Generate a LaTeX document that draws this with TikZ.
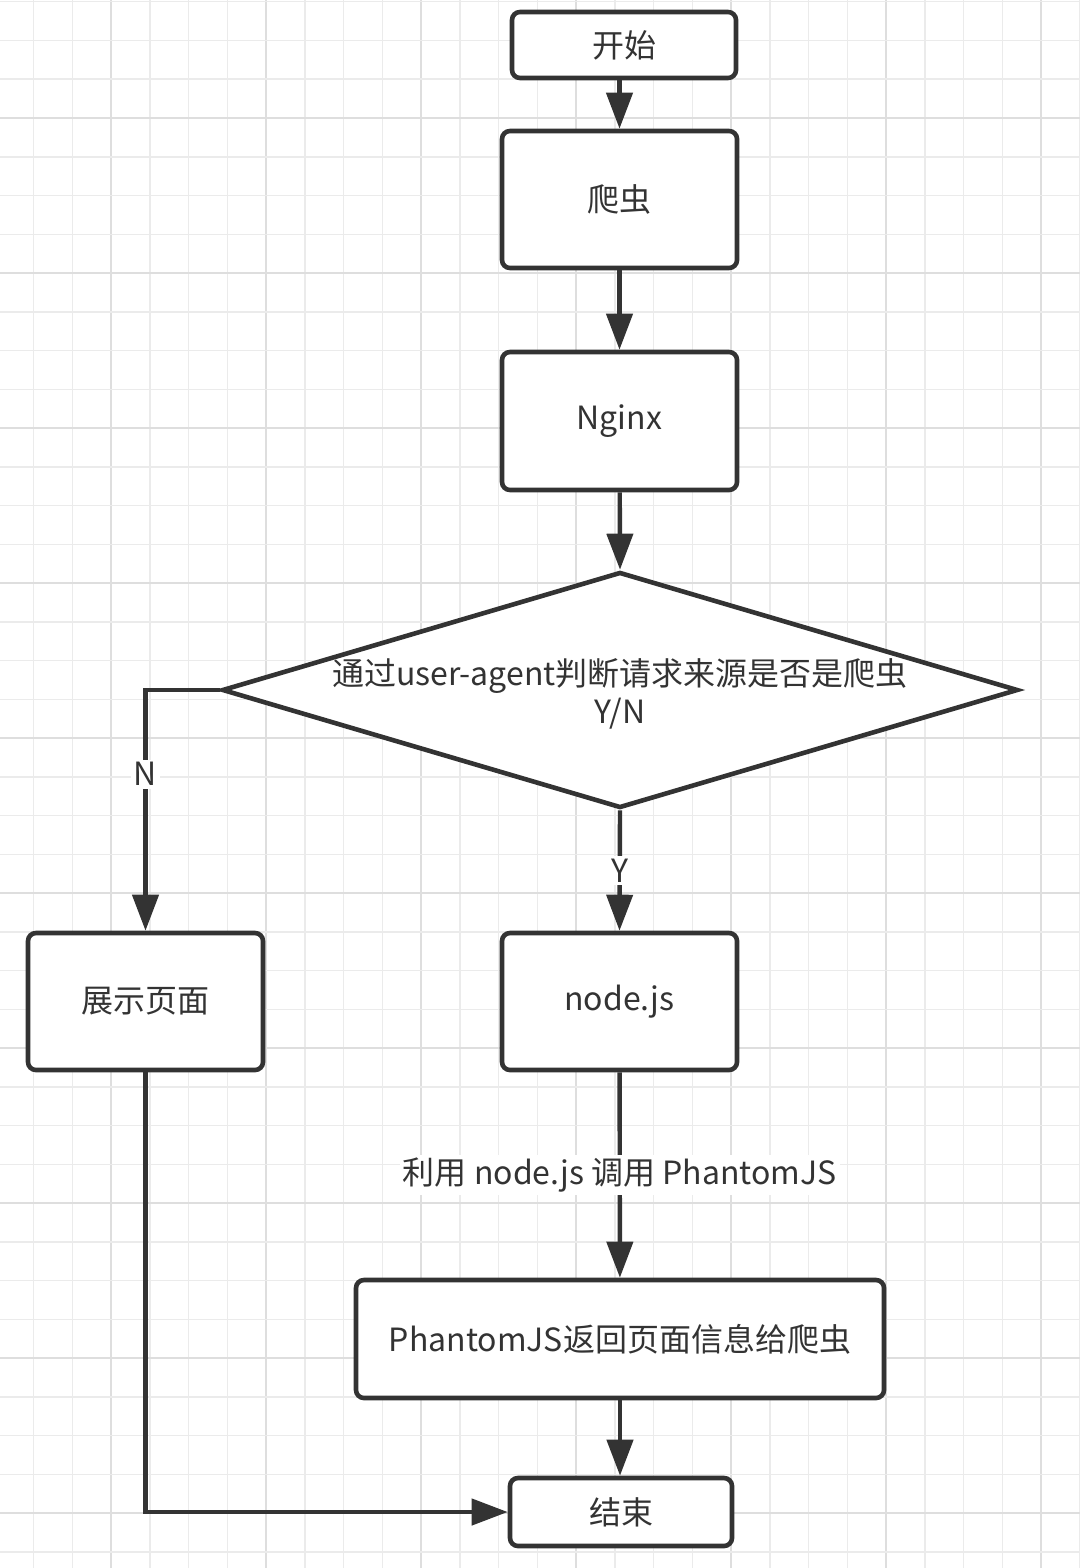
\documentclass[tikz,border=0pt]{standalone}
\usepackage{fontspec}
\setmainfont{Noto Sans CJK SC}
\usetikzlibrary{shapes.geometric,arrows.meta}
\definecolor{ink}{HTML}{333333}
\definecolor{gridminor}{HTML}{EBEBEB}
\definecolor{gridmajor}{HTML}{DEDEDE}
\begin{document}
\begin{tikzpicture}[x=0.5pt,y=-0.5pt,
  box/.style={draw=ink, line width=2.3pt, rounded corners=4pt, fill=white, text=ink,
    font=\fontsize{16pt}{19pt}\selectfont, inner sep=0pt},
  conn/.style={draw=ink, line width=2.2pt, -{Triangle[length=18pt,width=13pt]}},
  lbl/.style={fill=white, text=ink, font=\fontsize{16pt}{19pt}\selectfont, inner sep=1.5pt}]
\useasboundingbox (0,0) rectangle (1080,1568);
\fill[white] (0,0) rectangle (1080,1568);
% grid
\foreach \k in {0,...,27}{
  \pgfmathtruncatemacro\m{mod(\k,4)}
  \ifnum\m=2
    \draw[gridmajor,line width=1pt] ({33.5+38.75*\k},0) -- ({33.5+38.75*\k},1568);
  \else
    \draw[gridminor,line width=0.75pt] ({33.5+38.75*\k},0) -- ({33.5+38.75*\k},1568);
  \fi
}
\foreach \k in {0,...,40}{
  \pgfmathtruncatemacro\m{mod(\k,4)}
  \ifnum\m=3
    \draw[gridmajor,line width=1pt] (0,{1.75+38.75*\k}) -- (1080,{1.75+38.75*\k});
  \else
    \draw[gridminor,line width=0.75pt] (0,{1.75+38.75*\k}) -- (1080,{1.75+38.75*\k});
  \fi
}
% nodes
\node[box, minimum width=112pt, minimum height=33pt] (start) at (624,45) {开始};
\node[box, minimum width=117.5pt, minimum height=68.5pt] (crawl) at (619.5,199.5) {爬虫};
\node[box, minimum width=117.5pt, minimum height=69pt] (nginx) at (619.5,421) {Nginx};
\node[draw=ink, line width=2.3pt, diamond, fill=white, minimum width=398pt, minimum height=118pt, inner sep=0pt] (dec) at (620,690) {};
\node[text=ink, font=\fontsize{16pt}{19pt}\selectfont, align=center] (dectext) at (620,694) {通过user-agent判断请求来源是否是爬虫\\Y/N};
\node[box, minimum width=117.5pt, minimum height=68.5pt] (show) at (145.5,1001.5) {展示页面};
\node[box, minimum width=117.5pt, minimum height=68.5pt] (nodejs) at (619.5,1001.5) {node.js};
\node[box, minimum width=264pt, minimum height=59pt] (phantom) at (620,1339) {PhantomJS返回页面信息给爬虫};
\node[box, minimum width=111pt, minimum height=34pt] (end) at (621,1512) {结束};
% connectors
\draw[conn] (crawl.north |- start.south) -- (crawl.north);
\draw[conn] (crawl) -- (nginx);
\draw[conn] (nginx) -- (dec.north);
\coordinate (ncorner) at (show.north |- dec.west);
\draw[conn] (dec.west) -- (ncorner) -- node[lbl, pos=0.35] (nlabel) {N} (show.north);
\draw[conn] (dec.south) -- node[lbl] (ylabel) {Y} (nodejs.north);
\draw[conn] (nodejs) -- node[lbl] (calllabel) {利用 node.js 调用 PhantomJS} (phantom);
\draw[conn] (phantom.south) -- (end.north -| phantom.south);
\coordinate (scorner) at (show.south |- end.west);
\draw[conn] (show.south) -- (scorner) -- (end.west);
\end{tikzpicture}
\end{document}
